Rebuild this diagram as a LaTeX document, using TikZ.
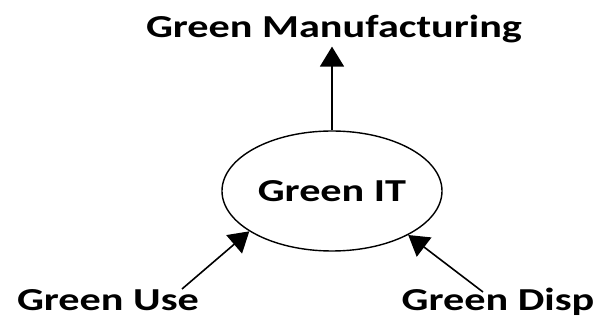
\documentclass[tikz,border=0pt]{standalone}
\usepackage{fontspec}
\usepackage{tikz}
\usetikzlibrary{shapes.geometric,arrows.meta}
\newfontfamily\labelfont[FakeStretch=1.32]{Carlito}

\begin{document}
\begin{tikzpicture}[x=1pt,y=-1pt,
  lbl/.style={font=\labelfont\bfseries\fontsize{32}{38}\selectfont,inner sep=2pt,anchor=base},
  arr/.style={line width=1.6pt,-{Triangle[length=20pt,width=24pt]}}]
\useasboundingbox (0,0) rectangle (611,320);
\node[draw,ellipse,line width=1.4pt,minimum width=220pt,minimum height=120pt,
  font=\labelfont\bfseries\fontsize{32}{38}\selectfont] (it) at (332,191) {Green IT};
\node[lbl,inner sep=3pt] (manu) at (334,38) {Green Manufacturing};
\node[lbl] (use) at (108,311) {Green Use};
\node[lbl] (disp) at (498,311) {Green Disp};
\coordinate (usetail) at (182,289);
\coordinate (disptail) at (483,292);
\draw[arr] (it.north) -- (it.north |- manu.south);
\draw[arr] (usetail) -- (it.206);
\draw[arr] (disptail) -- (it.330);
\end{tikzpicture}
\end{document}
